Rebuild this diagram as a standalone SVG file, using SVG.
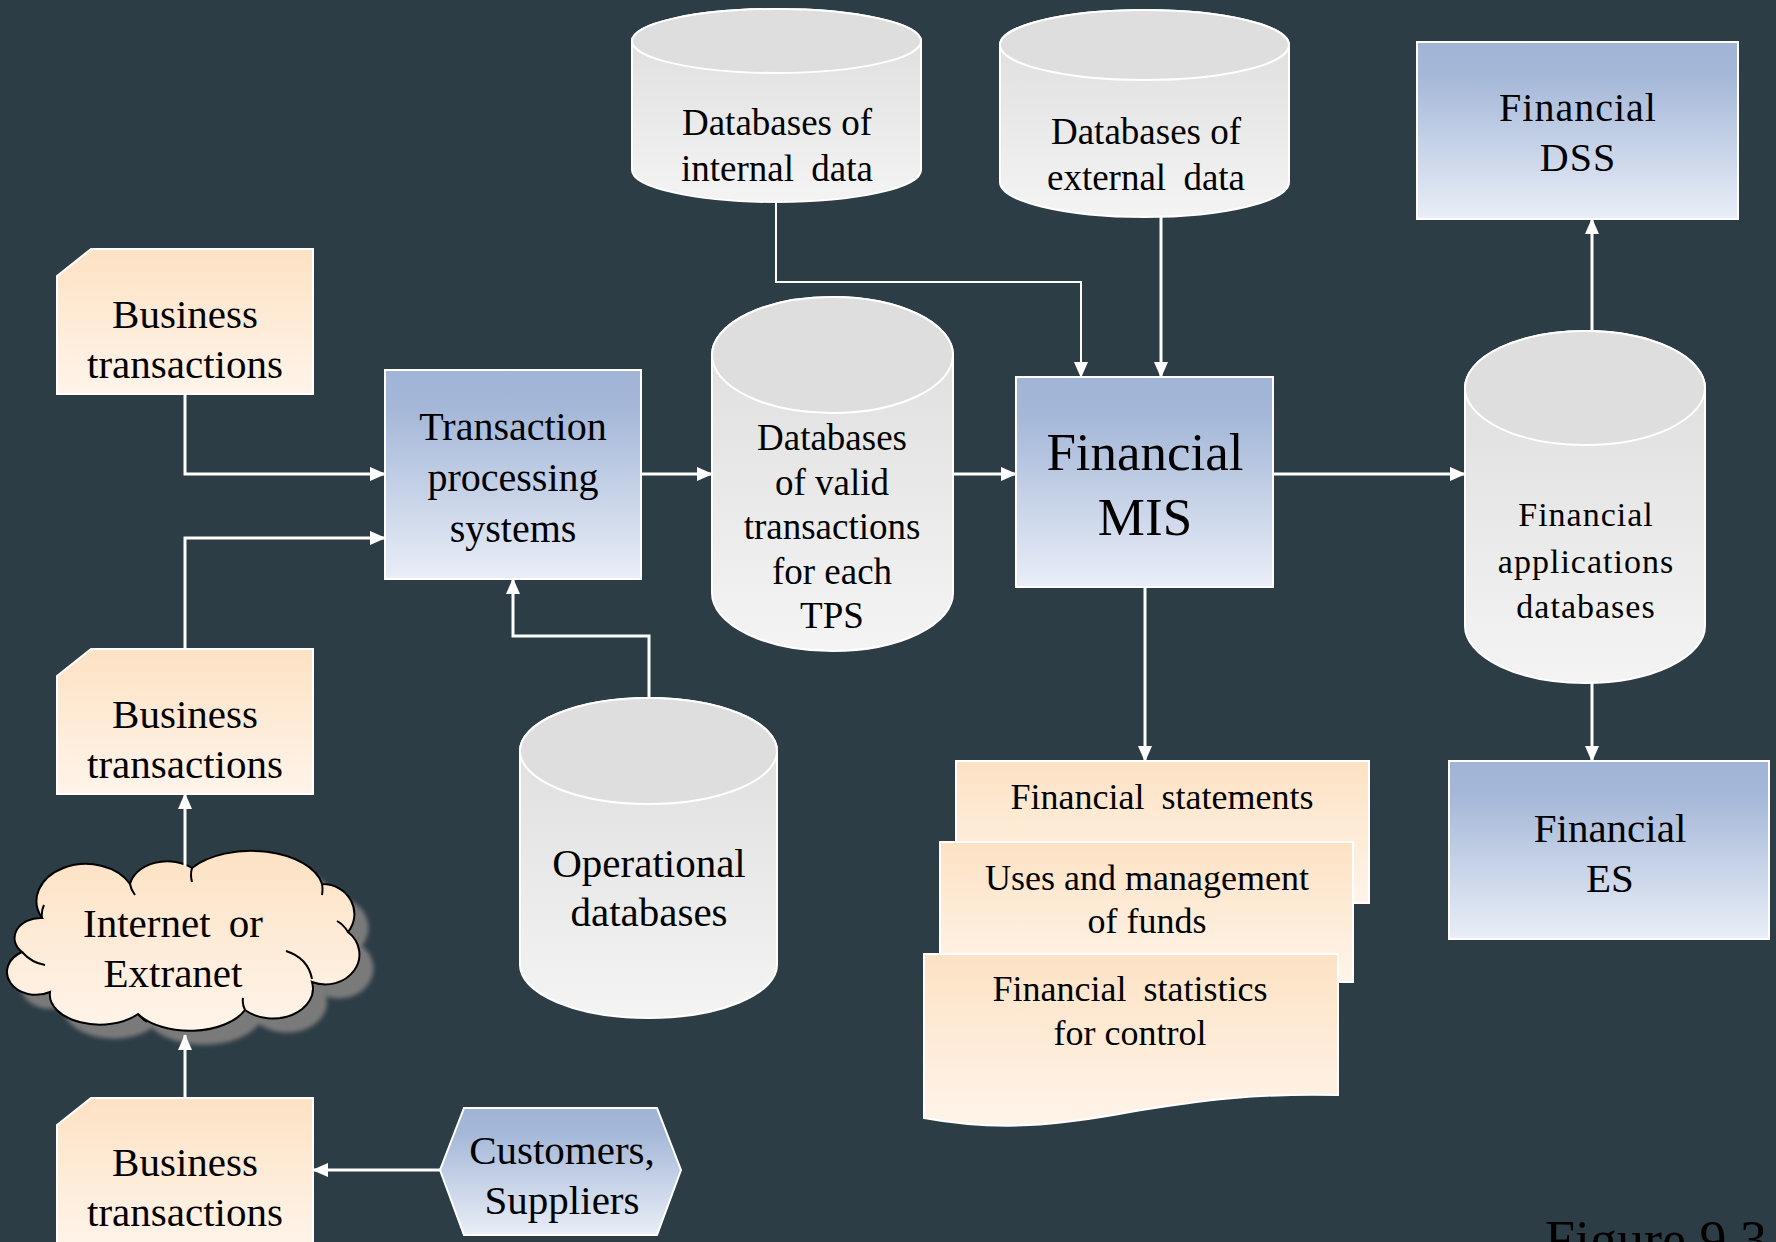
<svg xmlns="http://www.w3.org/2000/svg" width="1776" height="1242" viewBox="0 0 1776 1242">
<defs>
<linearGradient id="gO" x1="0" y1="0" x2="0" y2="1"><stop offset="0" stop-color="#fde2c4"/><stop offset="1" stop-color="#fff4ea"/></linearGradient>
<linearGradient id="gB" x1="0" y1="0" x2="0" y2="1"><stop offset="0" stop-color="#a0b4d6"/><stop offset="0.18" stop-color="#a4b7d8"/><stop offset="1" stop-color="#e9eef7"/></linearGradient>
<linearGradient id="gC" x1="0" y1="0" x2="0" y2="1"><stop offset="0" stop-color="#dcdcdc"/><stop offset="1" stop-color="#f4f4f4"/></linearGradient>
<filter id="blur" x="-10%" y="-10%" width="120%" height="120%"><feGaussianBlur stdDeviation="2"/></filter>
<marker id="arr" markerWidth="16" markerHeight="14" refX="15" refY="7" orient="auto" markerUnits="userSpaceOnUse"><path d="M0 0 L16 7 L0 14 Z" fill="#fff"/></marker>
<path id="cloudShape" d="M42 918 A48 36 0 0 1 130 884 A38 28 0 0 1 192 868 A72 40 0 0 1 322 884 A32 30 0 0 1 348 932 A34 30 0 0 1 312 982 A40 30 0 0 1 245 1010 A60 34 0 0 1 138 1014 A50 30 0 0 1 50 992 A28 22 0 0 1 22 952 A26 20 0 0 1 42 918 Z"/>
</defs>
<style>
.bg{fill:#2d3d46}
.conn{fill:none;stroke:#fff;stroke-width:3}
.thin{stroke-width:2}
.no{fill:url(#gO);stroke:#fff;stroke-width:2}
.nb{fill:url(#gB);stroke:#fff;stroke-width:2}
.cyl{fill:url(#gC);stroke:#fff;stroke-width:2}
.ctop{fill:#dedede;stroke:#fff;stroke-width:2}
text{font-family:"Liberation Serif","Times New Roman",serif;fill:#000;text-anchor:middle}
.t41{font-size:41px}
.t40{font-size:40px}
.t37{font-size:37px}
.t36{font-size:36px}
.t53{font-size:53px}
.sp{font-size:34px;letter-spacing:1px}
.sp40{font-size:40px;letter-spacing:1px}
.ws{word-spacing:8px}
</style>
<rect class="bg" x="0" y="0" width="1776" height="1242"/>

<g id="bt1">
<path class="no" d="M57 276 L91 249 H313 V394 H57 Z"/>
<text class="t41" x="185" y="328">Business</text>
<text class="t41" x="185" y="378">transactions</text>
</g>

<g id="bt2">
<path class="no" d="M57 676 L91 649 H313 V794 H57 Z"/>
<text class="t41" x="185" y="728">Business</text>
<text class="t41" x="185" y="778">transactions</text>
</g>

<g id="bt3">
<path class="no" d="M57 1125 L91 1098 H313 V1250 H57 Z"/>
<text class="t41" x="185" y="1176">Business</text>
<text class="t41" x="185" y="1226">transactions</text>
</g>

<g id="tps">
<rect class="nb" x="385" y="370" width="256" height="209"/>
<text class="t40" x="513" y="440">Transaction</text>
<text class="t40" x="513" y="491">processing</text>
<text class="t40" x="513" y="542">systems</text>
</g>

<g id="db-internal">
<path class="cyl" d="M632 41 V170 A144.5 32 0 0 0 921 170 V41 A144.5 32 0 0 0 632 41 Z"/>
<ellipse class="ctop" cx="776.5" cy="41" rx="144.5" ry="32"/>
<text class="t37" x="777" y="135">Databases of</text>
<text class="t37 ws" x="777" y="181">internal data</text>
</g>

<g id="db-external">
<path class="cyl" d="M1000 45 V182 A144.5 35 0 0 0 1289 182 V45 A144.5 35 0 0 0 1000 45 Z"/>
<ellipse class="ctop" cx="1144.5" cy="45" rx="144.5" ry="35"/>
<text class="t37" x="1146" y="144">Databases of</text>
<text class="t37 ws" x="1146" y="190">external data</text>
</g>

<g id="db-valid">
<path class="cyl" d="M712 355 V593 A120.5 58 0 0 0 953 593 V355 A120.5 58 0 0 0 712 355 Z"/>
<ellipse class="ctop" cx="832.5" cy="355" rx="120.5" ry="58"/>
<text class="t37" x="832" y="450">Databases</text>
<text class="t37" x="832" y="495">of valid</text>
<text class="t37" x="832" y="539">transactions</text>
<text class="t37" x="832" y="584">for each</text>
<text class="t37" x="832" y="628">TPS</text>
</g>

<g id="mis">
<rect class="nb" x="1016" y="377" width="257" height="210"/>
<text class="t53" x="1145" y="470">Financial</text>
<text class="t53" x="1145" y="535">MIS</text>
</g>

<g id="db-apps">
<path class="cyl" d="M1465 388 V626 A120 57 0 0 0 1705 626 V388 A120 57 0 0 0 1465 388 Z"/>
<ellipse class="ctop" cx="1585" cy="388" rx="120" ry="57"/>
<text class="sp" x="1586" y="526">Financial</text>
<text class="sp" x="1586" y="573">applications</text>
<text class="sp" x="1586" y="618">databases</text>
</g>

<g id="dss">
<rect class="nb" x="1417" y="42" width="321" height="177"/>
<text class="sp40" x="1578" y="121">Financial</text>
<text class="sp40" x="1578" y="171">DSS</text>
</g>

<g id="es">
<rect class="nb" x="1449" y="761" width="320" height="178"/>
<text class="t41" x="1610" y="842">Financial</text>
<text class="t41" x="1610" y="892">ES</text>
</g>

<g id="doc1">
<rect class="no" x="956" y="761" width="413" height="142"/>
<text class="t36 ws" x="1162" y="809">Financial statements</text>
</g>

<g id="doc2">
<rect class="no" x="940" y="842" width="413" height="140"/>
<text class="t36" x="1147" y="890">Uses and management</text>
<text class="t36" x="1147" y="933">of funds</text>
</g>

<g id="doc3">
<path class="no" d="M924 954 H1338 V1095 C1260 1093 1200 1100 1130 1112 C1060 1125 1000 1132 924 1118 Z"/>
<text class="t36 ws" x="1130" y="1001">Financial statistics</text>
<text class="t36" x="1130" y="1045">for control</text>
</g>

<g id="db-ops">
<path class="cyl" d="M520 751 V965 A128.5 53 0 0 0 777 965 V751 A128.5 53 0 0 0 520 751 Z"/>
<ellipse class="ctop" cx="648.5" cy="751" rx="128.5" ry="53"/>
<text class="t41" x="649" y="877">Operational</text>
<text class="t41" x="649" y="926">databases</text>
</g>

<g id="cloud">
<use href="#cloudShape" transform="translate(14 14)" fill="#7a7a7a" filter="url(#blur)"/>
<use href="#cloudShape" fill="url(#gO)" stroke="#000" stroke-width="2"/>
<path fill="none" stroke="#000" stroke-width="2" d="M42 918 Q41 911 44 905 M130 884 Q131 890 135 895 M192 868 Q190 875 192 882 M322 884 Q323 889 322 895 M348 932 Q344 925 337 921 M286 951 Q308 958 312 979 M245 1010 Q242 1004 243 998 M138 1014 Q142 1019 147 1022 M22 952 Q32 963 45 965"/>
<text class="t41 ws" x="173" y="937">Internet or</text>
<text class="t41" x="173" y="987">Extranet</text>
</g>

<g id="customers">
<path class="nb" d="M440 1170 L464 1108 H657 L681 1170 L657 1235 H464 Z"/>
<text class="t41" x="562" y="1164">Customers,</text>
<text class="t41" x="562" y="1214">Suppliers</text>
</g>

<g id="caption">
<text x="1656" y="1258" style="font-size:54px">Figure 9.3</text>
</g>

<g id="connectors">
<path class="conn" marker-end="url(#arr)" d="M185 394 V474 H385"/>
<path class="conn" marker-end="url(#arr)" d="M185 649 V538 H385"/>
<path class="conn" marker-end="url(#arr)" d="M649 698 V636 H513 V579"/>
<path class="conn" marker-end="url(#arr)" d="M641 474 H712"/>
<path class="conn" marker-end="url(#arr)" d="M953 474 H1016"/>
<path class="conn thin" marker-end="url(#arr)" d="M776 202 V282 H1081 V377"/>
<path class="conn" marker-end="url(#arr)" d="M1161 217 V377"/>
<path class="conn" marker-end="url(#arr)" d="M1273 474 H1465"/>
<path class="conn" marker-end="url(#arr)" d="M1592 331 V219"/>
<path class="conn" marker-end="url(#arr)" d="M1592 683 V761"/>
<path class="conn" marker-end="url(#arr)" d="M1145 587 V761"/>
<path class="conn" marker-end="url(#arr)" d="M185 866 V794"/>
<path class="conn" marker-end="url(#arr)" d="M185 1098 V1035"/>
<path class="conn" marker-end="url(#arr)" d="M440 1170 H313"/>
</g>
</svg>
